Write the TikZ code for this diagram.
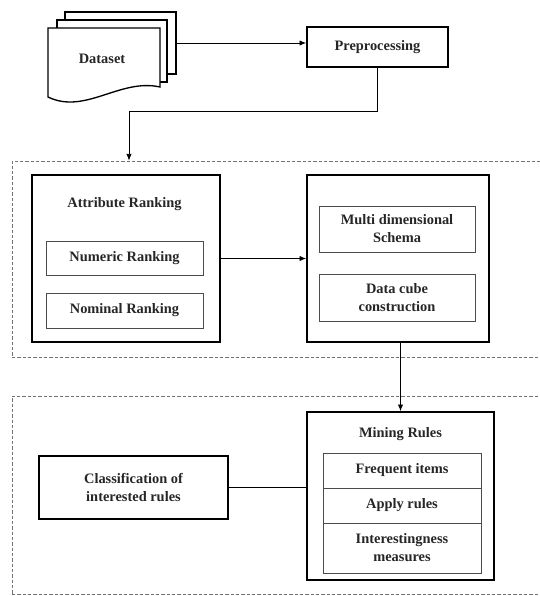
\documentclass[tikz,border=0pt]{standalone}
\usepackage{fontspec}
\setmainfont{Liberation Serif}
\usetikzlibrary{calc}
\usetikzlibrary{arrows.meta}

\tikzset{
  outerbox/.style={draw=black, line width=1.2pt, fill=white},
  innerbox/.style={draw=black!70, line width=0.6pt},
  zone/.style={draw=black!55, dash pattern=on 2.5pt off 1.5pt, line width=0.6pt},
  lbl/.style={font=\fontsize{10.8}{13.5}\selectfont\bfseries, text=black!85, align=center},
  arr/.style={-{Latex[length=5pt,width=4pt]}, line width=0.6pt},
}

\begin{document}
\begin{tikzpicture}[x=0.75pt, y=-0.75pt]
    \def\u{0.75pt};
    \useasboundingbox (0,0) rectangle (539,596);

    % dashed zones
    \node[zone, minimum width=529*\u, minimum height=196*\u] (zoneA) at (276.5,259) {};
    \node[zone, minimum width=529*\u, minimum height=198.5*\u] (zoneB) at (276.5,495.25) {};

    % dataset (stack of pages)
    \node[outerbox, line width=1pt, minimum width=111*\u, minimum height=62*\u] (docc) at (120.5,43) {};
    \node[outerbox, line width=1pt, minimum width=110*\u, minimum height=62*\u] (docb) at (112,51) {};
    \filldraw[fill=white, line width=1pt] (48,28) -- (160,28) -- (160,87)
        .. controls (120,78) and (85,115) .. (48,97) -- cycle;
    \node[lbl] (dataset) at (102,59) {Dataset};

    \node[outerbox, minimum width=141*\u, minimum height=40*\u] (prep) at (377.5,47) {};
    \node[lbl] at (prep) {Preprocessing};

    % first zone
    \node[outerbox, minimum width=188*\u, minimum height=167*\u] (attr) at (126,258.5) {};
    \node[lbl] (attrtitle) at (124.5,204) {Attribute Ranking};
    \node[innerbox, lbl, minimum width=157*\u, minimum height=34*\u] (numrank) at (124.5,258) {Numeric Ranking};
    \node[innerbox, lbl, minimum width=157*\u, minimum height=35*\u] (nomrank) at (124.5,310.5) {Nominal Ranking};

    \node[outerbox, minimum width=182*\u, minimum height=167*\u] (cube) at (398,258.5) {};
    \node[innerbox, lbl, minimum width=156*\u, minimum height=46*\u] (schema) at (397,229) {Multi dimensional\\Schema};
    \node[innerbox, lbl, minimum width=156*\u, minimum height=47*\u] (datacube) at (397,297.5) {Data cube\\construction};

    % second zone
    \node[outerbox, minimum width=187*\u, minimum height=168*\u] (mining) at (400.5,496) {};
    \node[lbl] (miningtitle) at (400.5,434) {Mining Rules};
    \node[innerbox, lbl, minimum width=158*\u, minimum height=35*\u] (freq) at (402,470.5) {Frequent items};
    \node[innerbox, lbl, minimum width=158*\u, minimum height=35*\u] (apply) at (402,505.5) {Apply rules};
    \node[innerbox, lbl, minimum width=158*\u, minimum height=50*\u] (interest) at (402,548) {Interestingness\\measures};

    \node[outerbox, lbl, minimum width=189*\u, minimum height=63*\u] (classif) at (133.5,487.5) {Classification of\\interested rules};

    % connectors
    \coordinate (turn) at (129,111);
    \draw[arr] (docc.east) -- (docc.east -| prep.west);
    \draw[line width=0.6pt] (prep.south) |- (turn);
    \draw[arr] (turn) -- (turn |- zoneA.north);
    \draw[arr] (attr.east) -- (cube.west);
    \draw[arr] (mining.north |- cube.south) -- (mining.north);
    \draw[line width=0.6pt] (classif.east) -- (classif.east -| mining.west);

\end{tikzpicture}
\end{document}
